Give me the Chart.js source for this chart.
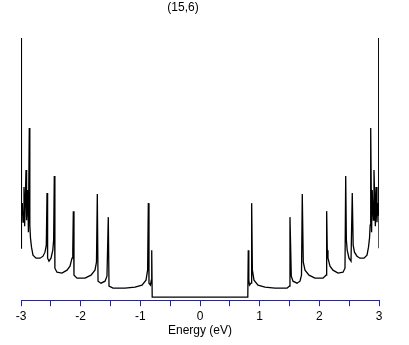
<!DOCTYPE html>
<html>
<head>
<meta charset="utf-8">
<script src="https://cdn.jsdelivr.net/npm/chart.js@4/dist/chart.umd.min.js"></script>
<style>
  html, body { margin: 0; padding: 0; background: #fff; }
  #wrap { width: 409px; height: 345px; position: relative; }
</style>
</head>
<body>
<div id="wrap"><canvas id="dos"></canvas></div>
<script>
// ───────────────────────────────────────────────
// DOS (15,6)
// ───────────────────────────────────────────────
const chartTitle = '(15,6)';
const xTitle = 'Energy (eV)';
const xTicks = [-3, -2.5, -2, -1.5, -1, -0.5, 0, 0.5, 1, 1.5, 2, 2.5, 3];

// lato valenza (E < 0)
const energyNeg = [
  -3.000, -2.995, -2.991, -2.978, -2.966, -2.950, -2.939, -2.916, -2.906, -2.886,
  -2.876, -2.861, -2.852, -2.841, -2.824, -2.799, -2.748, -2.681, -2.631, -2.598,
  -2.576, -2.564, -2.554, -2.531, -2.497, -2.467, -2.453, -2.442, -2.432, -2.397,
  -2.313, -2.229, -2.179, -2.145, -2.132, -2.123, -2.112, -2.061, -1.927, -1.827,
  -1.760, -1.735, -1.721, -1.709, -1.659, -1.592, -1.559, -1.537, -1.525, -1.458,
  -1.257, -1.089, -0.972, -0.905, -0.878, -0.866, -0.855, -0.830, -0.816, -0.809,
  -0.801
];
const dosNeg = [
  4.9, 25.9, 8.2, 9.4, 7.5, 11.0, 7.1, 12.7, 7.7, 10.7,
  6.5, 16.9, 7.2, 5.9, 5.0, 4.2, 3.9, 3.9, 4.1, 4.5,
  5.2, 10.4, 3.9, 3.6, 3.9, 4.7, 5.7, 12.1, 2.9, 2.5,
  2.4, 2.7, 3.1, 3.9, 4.7, 8.6, 2.2, 1.9, 1.9, 2.2,
  2.7, 3.5, 10.3, 1.6, 1.4, 1.6, 2.1, 8.0, 1.1, 0.9,
  0.9, 1.0, 1.2, 1.7, 2.7, 9.4, 1.4, 1.2, 1.7, 4.7,
  0.0
];

// lato conduzione (E > 0)
const energyPos = [
  0.801, 0.809, 0.818, 0.830, 0.855, 0.866, 0.878, 0.905, 0.972, 1.089,
  1.257, 1.458, 1.497, 1.508, 1.530, 1.559, 1.626, 1.676, 1.701, 1.714,
  1.731, 1.760, 1.827, 1.927, 2.061, 2.112, 2.123, 2.133, 2.145, 2.179,
  2.229, 2.313, 2.397, 2.430, 2.442, 2.453, 2.467, 2.497, 2.531, 2.552,
  2.567, 2.589, 2.631, 2.681, 2.748, 2.799, 2.824, 2.841, 2.852, 2.861,
  2.876, 2.886, 2.906, 2.916, 2.939, 2.950, 2.966, 2.978, 2.991, 2.995,
  3.000
];
const dosPos = [
  0.0, 4.7, 1.7, 1.2, 1.4, 9.4, 2.7, 1.7, 1.2, 1.0,
  0.9, 0.9, 1.1, 8.0, 2.1, 1.6, 1.4, 1.6, 2.2, 10.3,
  3.5, 2.7, 2.2, 1.9, 1.9, 2.2, 8.6, 4.7, 3.9, 3.1,
  2.7, 2.4, 2.5, 2.9, 12.1, 5.7, 4.7, 3.9, 3.6, 10.4,
  5.2, 4.5, 4.1, 3.9, 3.9, 4.2, 5.0, 5.9, 7.2, 16.9,
  6.5, 10.7, 7.7, 12.7, 7.1, 11.0, 7.5, 9.4, 8.2, 25.9,
  4.9
];

const punti = [
  ...energyNeg.map((e, i) => ({ x: e, y: dosNeg[i] })),
  ...energyPos.map((e, i) => ({ x: e, y: dosPos[i] }))
];

const BLU = '#1f1fc8';
const FONT = "'Liberation Sans', Arial, sans-serif";

// titolo in alto, un po' a sinistra del centro come nell'originale
const titoloPlugin = {
  id: 'titolo',
  afterDraw(chart) {
    const ctx = chart.ctx;
    ctx.save();
    ctx.font = '12px ' + FONT;
    ctx.fillStyle = '#000';
    ctx.textAlign = 'center';
    ctx.textBaseline = 'middle';
    ctx.fillText(chartTitle, 183, 8);
    ctx.restore();
  }
};

new Chart(document.getElementById('dos').getContext('2d'), {
  type: 'line',
  data: {
    datasets: [{
      data: punti,
      borderColor: '#000',
      borderWidth: 1.3,
      pointRadius: 0,
      tension: 0,
      fill: false
    }]
  },
  options: {
    responsive: true,
    maintainAspectRatio: false,
    animation: false,
    layout: { padding: { left: 21, right: 30, top: 30, bottom: 7 } },
    plugins: { legend: { display: false }, tooltip: { enabled: false } },
    scales: {
      x: {
        type: 'linear',
        min: -3, max: 3,
        afterBuildTicks: s => { s.ticks = xTicks.map(v => ({ value: v })); },
        grid: { display: true, drawOnChartArea: false, drawTicks: true, tickLength: 6, color: BLU },
        border: { display: true, color: BLU, width: 1 },
        ticks: {
          autoSkip: false, maxRotation: 0, padding: 3, color: '#000',
          font: { family: FONT, size: 12 },
          callback: v => Number.isInteger(v) ? String(v) : ''
        },
        title: { display: true, text: xTitle, color: '#000', font: { family: FONT, size: 12 }, padding: { top: -3, bottom: 0 } }
      },
      y: {
        display: false,
        min: -0.3, max: 26.7
      }
    }
  },
  plugins: [titoloPlugin]
});
</script>
</body>
</html>
